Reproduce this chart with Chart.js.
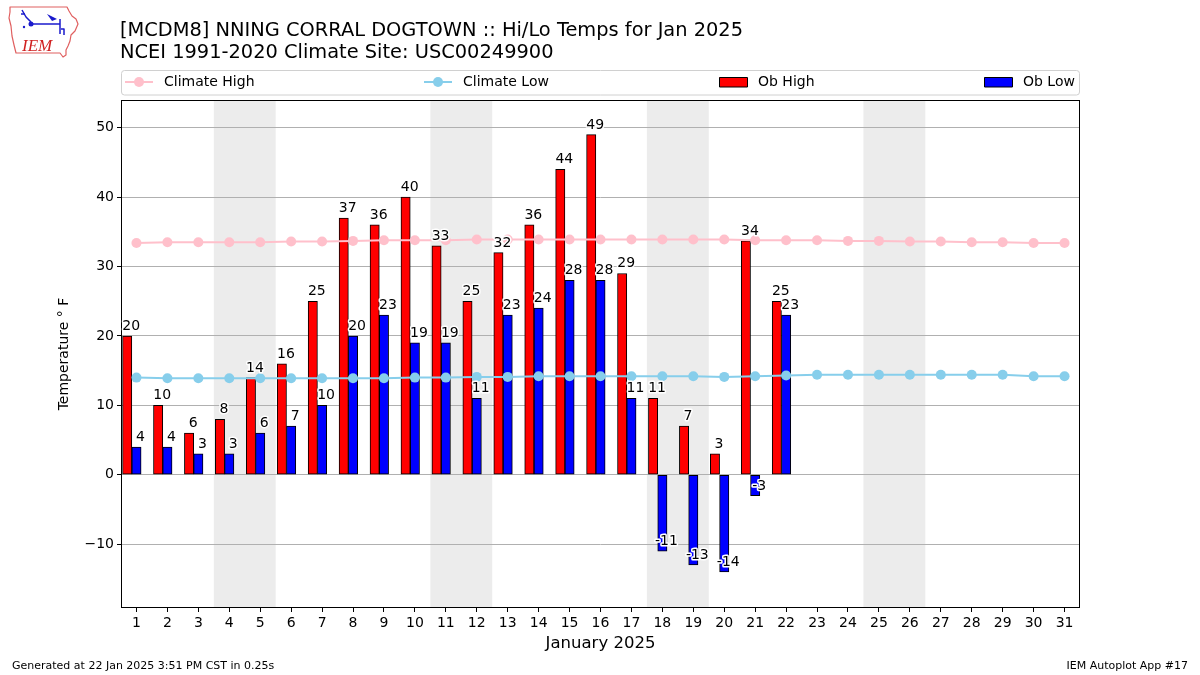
<!DOCTYPE html>
<html>
<head>
<meta charset="utf-8">
<script src="https://cdn.jsdelivr.net/npm/chart.js@4.4.1/dist/chart.umd.min.js"></script>
<style>
html,body{margin:0;padding:0;background:#fff;}
#wrap{width:1200px;height:675px;position:relative;}
</style>
</head>
<body>
<div id="wrap"><canvas id="c" width="1200" height="675"></canvas></div>
<script>
// ---- data ----
const days = [1,2,3,4,5,6,7,8,9,10,11,12,13,14,15,16,17,18,19,20,21,22,23,24,25,26,27,28,29,30,31];
const climateHigh = [33.4,33.5,33.5,33.5,33.5,33.6,33.6,33.7,33.8,33.8,33.8,33.9,33.9,33.9,33.9,33.9,33.9,33.9,33.9,33.9,33.8,33.8,33.8,33.7,33.7,33.6,33.6,33.5,33.5,33.4,33.4];
const climateLow = [14.0,13.9,13.9,13.9,13.9,13.9,13.9,13.9,13.9,14.0,14.0,14.1,14.1,14.2,14.2,14.2,14.2,14.2,14.2,14.1,14.2,14.3,14.4,14.4,14.4,14.4,14.4,14.4,14.4,14.2,14.2];
const obHigh = [20,10,6,8,14,16,25,37,36,40,33,25,32,36,44,49,29,11,7,3,33.7,25,null,null,null,null,null,null,null,null,null];
const obLow = [4,4,3,3,6,7,10,20,23,19,19,11,23,24,28,28,11,-11,-13,-14,-3,23,null,null,null,null,null,null,null,null,null];
const weekendStarts = [4,11,18,25];
const yTicks = [-10,0,10,20,30,40,50];
const titleLines = ["[MCDM8] NNING CORRAL DOGTOWN :: Hi/Lo Temps for Jan 2025", "NCEI 1991-2020 Climate Site: USC00249900"];
const xTitle = "January 2025";
const yTitle = "Temperature \u00B0 F";
const footerLeft = "Generated at 22 Jan 2025 3:51 PM CST in 0.25s";
const footerRight = "IEM Autoplot App #17";
const HIGH_OFFSET = -0.3, LOW_OFFSET = 0;

const FONT = '"DejaVu Sans", sans-serif';

const pts = (arr, off) => days.map((d,i)=>({x:d+off, y:arr[i]})).filter(p=>p.y!==null);

const decor = {
  id:'decor',
  beforeDraw(chart){
    const ctx = chart.ctx, a = chart.chartArea, xs = chart.scales.x;
    ctx.save();
    ctx.fillStyle = '#fff';
    ctx.fillRect(0,0,chart.width,chart.height);
    ctx.fillStyle = '#ececec';
    weekendStarts.forEach(d=>{
      const x0 = xs.getPixelForValue(d-0.5), x1 = xs.getPixelForValue(d+1.5);
      ctx.fillRect(x0, a.top, x1-x0, a.bottom-a.top);
    });
    ctx.restore();
  },
  afterDraw(chart){
    const ctx = chart.ctx, a = chart.chartArea, xs = chart.scales.x, ys = chart.scales.y;
    ctx.save();
    // frame
    ctx.strokeStyle = '#000'; ctx.lineWidth = 1;
    ctx.strokeRect(a.left+0.5, a.top+0.5, a.right-a.left-1, a.bottom-a.top-1);
    // bar value labels
    ctx.font = '14px ' + FONT;
    ctx.textAlign = 'center'; ctx.textBaseline = 'alphabetic';
    ctx.lineJoin = 'round';
    const drawLabel = (arr, off) => {
      days.forEach((d,i)=>{
        const v = arr[i];
        if (v === null) return;
        const x = xs.getPixelForValue(d+off);
        const y = ys.getPixelForValue(v) - 6;
        const t = String(Math.round(v));
        ctx.strokeStyle = '#fff'; ctx.lineWidth = 3;
        ctx.strokeText(t, x, y);
        ctx.fillStyle = '#000';
        ctx.fillText(t, x, y);
      });
    };
    drawLabel(obHigh, HIGH_OFFSET + 0.13);
    drawLabel(obLow, LOW_OFFSET + 0.13);
    // titles
    ctx.fillStyle = '#000';
    ctx.textAlign = 'left';
    ctx.font = '19.4px ' + FONT;
    ctx.fillText(titleLines[0], 120, 36);
    ctx.fillText(titleLines[1], 120, 58);
    // x title
    ctx.font = '16.5px ' + FONT;
    ctx.textAlign = 'center'; ctx.textBaseline = 'middle';
    ctx.fillText(xTitle, (a.left+a.right)/2, 644);
    // y title
    ctx.save();
    ctx.translate(64, (a.top+a.bottom)/2);
    ctx.rotate(-Math.PI/2);
    ctx.font = '14px ' + FONT;
    ctx.fillText(yTitle, 0, 0);
    ctx.restore();
    // footer
    ctx.font = '11px ' + FONT;
    ctx.textAlign = 'left'; ctx.textBaseline = 'middle';
    ctx.fillText(footerLeft, 12, 666);
    ctx.textAlign = 'right';
    ctx.fillText(footerRight, 1188, 666);
    // legend
    const ly0 = 70.5, ly1 = 95, lcy = 82;
    ctx.beginPath();
    if (ctx.roundRect) ctx.roundRect(a.left+0.5, ly0, a.right-a.left-1, ly1-ly0, 3); else ctx.rect(a.left+0.5, ly0, a.right-a.left-1, ly1-ly0);
    ctx.fillStyle = 'rgba(255,255,255,0.8)'; ctx.fill();
    ctx.strokeStyle = '#d0d0d0'; ctx.lineWidth = 1; ctx.stroke();
    ctx.font = '14px ' + FONT; ctx.textAlign = 'left'; ctx.textBaseline = 'middle';
    const lineItem = (x, color, label) => {
      ctx.strokeStyle = color; ctx.lineWidth = 2;
      ctx.beginPath(); ctx.moveTo(x, lcy); ctx.lineTo(x+28, lcy); ctx.stroke();
      ctx.fillStyle = color; ctx.beginPath(); ctx.arc(x+14, lcy, 5, 0, Math.PI*2); ctx.fill();
      ctx.fillStyle = '#000'; ctx.fillText(label, x+39, lcy);
    };
    const patchItem = (x, color, label) => {
      ctx.fillStyle = color; ctx.fillRect(x, lcy-4.5, 28, 9.5);
      ctx.strokeStyle = '#000'; ctx.lineWidth = 1; ctx.strokeRect(x+0.5, lcy-4.5, 28, 9.5);
      ctx.fillStyle = '#000'; ctx.fillText(label, x+39, lcy);
    };
    lineItem(a.left+4, '#ffc0cb', 'Climate High');
    lineItem(a.left+303, '#87ceeb', 'Climate Low');
    patchItem(a.left+598, '#ff0000', 'Ob High');
    patchItem(a.left+863, '#0000ff', 'Ob Low');
    // logo
    ctx.strokeStyle = '#e06060'; ctx.lineWidth = 1.2;
    ctx.beginPath();
    ctx.moveTo(10,7); ctx.lineTo(67,7); ctx.lineTo(69,11); ctx.lineTo(72,16); ctx.lineTo(76,19); ctx.lineTo(78,24);
    ctx.lineTo(75,31); ctx.lineTo(71,35); ctx.lineTo(70,41); ctx.lineTo(68,46); ctx.lineTo(66,50); ctx.lineTo(66,55);
    ctx.lineTo(63,57); ctx.lineTo(60,53); ctx.lineTo(16,53); ctx.lineTo(14,45); ctx.lineTo(12,36); ctx.lineTo(11,26);
    ctx.lineTo(9,18); ctx.lineTo(10,12); ctx.closePath(); ctx.stroke();
    ctx.strokeStyle = '#1a1acc'; ctx.fillStyle = '#1a1acc'; ctx.lineWidth = 1.5;
    ctx.beginPath(); ctx.moveTo(31,24); ctx.lineTo(60,24); ctx.stroke();
    ctx.beginPath(); ctx.arc(31,24,2.5,0,Math.PI*2); ctx.fill();
    ctx.beginPath(); ctx.moveTo(60,19); ctx.lineTo(60,34); ctx.stroke();
    ctx.beginPath(); ctx.moveTo(47,14); ctx.lineTo(57,19); ctx.lineTo(52,21); ctx.closePath(); ctx.fill();
    ctx.beginPath(); ctx.moveTo(22,10); ctx.lineTo(26,17); ctx.lineTo(31,22); ctx.stroke();
    ctx.beginPath(); ctx.moveTo(21,14); ctx.lineTo(25,14); ctx.stroke();
    ctx.beginPath(); ctx.moveTo(61,29); ctx.lineTo(64,29); ctx.lineTo(64,35); ctx.stroke();
    ctx.beginPath(); ctx.arc(24,27,1.2,0,Math.PI*2); ctx.fill();
    ctx.fillStyle = '#d02020';
    ctx.font = 'italic 17px "Liberation Serif", "DejaVu Serif", serif';
    ctx.textAlign = 'left'; ctx.textBaseline = 'alphabetic';
    ctx.fillText('IEM', 22, 51);
    ctx.restore();
  }
};

new Chart(document.getElementById('c'), {
  type: 'bar',
  data: {
    datasets: [
      {type:'line', label:'Climate High', data: pts(climateHigh,0), borderColor:'#ffc0cb', backgroundColor:'#ffc0cb',
       borderWidth:2, pointRadius:5, pointBorderWidth:0, pointBackgroundColor:'#ffc0cb', tension:0},
      {type:'line', label:'Climate Low', data: pts(climateLow,0), borderColor:'#87ceeb', backgroundColor:'#87ceeb',
       borderWidth:2, pointRadius:5, pointBorderWidth:0, pointBackgroundColor:'#87ceeb', tension:0},
      {label:'Ob High', data: pts(obHigh,HIGH_OFFSET), backgroundColor:'#ff0000', borderColor:'#000', borderWidth:1,
       borderSkipped:false, grouped:false, categoryPercentage:1, barPercentage:1},
      {label:'Ob Low', data: pts(obLow,LOW_OFFSET), backgroundColor:'#0000ff', borderColor:'#000', borderWidth:1,
       borderSkipped:false, grouped:false, categoryPercentage:1, barPercentage:1}
    ]
  },
  options: {
    responsive:false, animation:false, devicePixelRatio:1,
    layout:{padding:{top:100,right:120,left:0,bottom:0}},
    plugins:{legend:{display:false}, tooltip:{enabled:false}},
    scales:{
      x:{type:'linear', min:0.5, max:31.5, offset:false,
         afterBuildTicks:(s)=>{ s.ticks = days.map(v=>({value:v})); },
         afterFit:(s)=>{ s.height = 67; },
         ticks:{autoSkip:false, maxRotation:0, color:'#000', padding:3, font:{family:'DejaVu Sans', size:14}, callback:(v)=>String(v)},
         grid:{offset:false, drawOnChartArea:false, drawTicks:true, tickLength:4, tickColor:'#000'},
         border:{display:false}},
      y:{type:'linear', min:-19.2, max:54,
         afterBuildTicks:(s)=>{ s.ticks = yTicks.map(v=>({value:v})); },
         afterFit:(s)=>{ s.width = 121; },
         ticks:{color:'#000', padding:3, font:{family:'DejaVu Sans', size:14}, callback:(v)=> v<0 ? '\u2212'+Math.abs(v) : String(v)},
         grid:{color:'#b0b0b0', lineWidth:1, tickLength:4, tickColor:'#000'},
         border:{display:false}}
    }
  },
  plugins:[decor]
});
</script>
</body>
</html>
